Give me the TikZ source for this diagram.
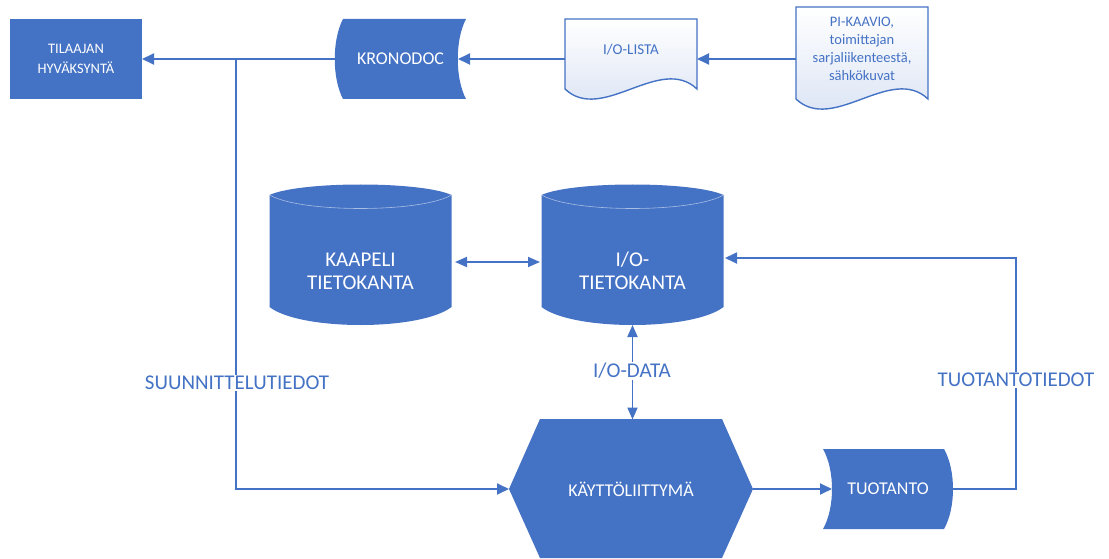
\documentclass[tikz,border=0pt]{standalone}
\usepackage{fontspec}
\setmainfont{Carlito}
\usetikzlibrary{arrows.meta,calc}
\definecolor{accent}{HTML}{4472C4}
\definecolor{paleblue}{HTML}{D6E0F3}
\definecolor{rimline}{HTML}{A9BDE5}

\begin{document}
\begin{tikzpicture}[x=1pt,y=-1pt,
  flow/.style={draw=accent,line width=1.8pt},
  tip/.style={-{Triangle[length=12pt,width=11pt]}},
  twotips/.style={{Triangle[length=12pt,width=10pt]}-{Triangle[length=12pt,width=10pt]}},
  box/.style={inner sep=0pt,outer sep=0pt,align=center},
  whitetext/.style={text=white},
  doc/.style={draw=accent,line width=1.4pt,top color=white,bottom color=paleblue},
  doctext/.style={text=accent},
  flowlabel/.style={text=accent,fill=white,inner sep=1.5pt,font=\fontsize{21}{24}\selectfont},
  cyltext/.style={text=white,align=center,font=\fontsize{21}{23}\selectfont},
  dbcyl/.pic={
    \fill[accent] (-91,-60) .. controls (-60,-74) and (60,-74) .. (91,-60)
      -- (91,52) .. controls (60,76) and (-60,76) .. (-91,52) -- cycle;
    \draw[rimline,line width=0.6pt] (-91,-60) .. controls (-60,-42) and (60,-42) .. (91,-60);
  }
]
\useasboundingbox (0,0) rectangle (1109,559);

% ---- top row: approval, document store, source documents
\node[box,whitetext,fill=accent,minimum width=132pt,minimum height=80pt,
      font=\fontsize{14.5}{20}\selectfont] (tilaajan) at (76,59) {TILAAJAN\\HYVÄKSYNTÄ};

\fill[accent] (343,19) -- (466,19) .. controls (455,40) and (455,78) .. (466,99)
  -- (343,99) .. controls (332,78) and (332,40) .. (343,19) -- cycle;
\node[box,whitetext,minimum width=131pt,minimum height=80pt,
      font=\fontsize{18}{22}\selectfont] (krono) at (400.5,59) {KRONODOC};

\path[doc] (565,19) -- (697,19) -- (697,89) .. controls (660,54) and (602,124) .. (565,89) -- cycle;
\node[box,doctext,minimum width=132pt,minimum height=62pt,
      font=\fontsize{15}{18}\selectfont] (iolista) at (631,50) {I/O-LISTA};

\path[doc] (796,7) -- (928,7) -- (928,99) .. controls (891,64) and (833,134) .. (796,99) -- cycle;
\node[box,doctext,minimum width=132pt,minimum height=80pt,
      font=\fontsize{14.5}{18}\selectfont] (pikaavio) at (862,49)
      {PI-KAAVIO,\\toimittajan\\sarjaliikenteestä,\\sähkökuvat};

% ---- databases
\pic at (360.5,255) {dbcyl};
\node[box,minimum width=183pt,minimum height=140pt,
      label={[cyltext,yshift=-16pt]center:{KAAPELI\\TIETOKANTA}}] (kaapeli) at (360.5,255) {};
\pic at (632.5,255) {dbcyl};
\node[box,minimum width=181pt,minimum height=140pt,
      label={[cyltext,yshift=-16pt]center:{I/O-\\TIETOKANTA}}] (iodb) at (632.5,255) {};

% ---- user interface and production
\fill[accent] (540,419) -- (722,419) -- (753,489) -- (722,558) -- (540,558) -- (509,489) -- cycle;
\node[box,whitetext,minimum width=244pt,minimum height=139pt,
      font=\fontsize{18}{22}\selectfont] (ui) at (631,489) {KÄYTTÖLIITTYMÄ};

\fill[accent] (823,449) -- (944,449) .. controls (956,470) and (956,508) .. (944,529)
  -- (823,529) .. controls (835,508) and (835,470) .. (823,449) -- cycle;
\node[box,whitetext,minimum width=130pt,minimum height=80pt,
      font=\fontsize{18}{22}\selectfont] (tuot) at (888,489) {TUOTANTO};

% ---- connectors
\draw[flow,tip] (krono.west) -- (tilaajan.east);
\draw[flow,tip] (iolista.west |- krono.center) -- ($(krono.east)+(-8,0)$);
\draw[flow,tip] (pikaavio.west |- krono.center) -- (iolista.east |- krono.center);

\coordinate (split) at (236,59);
\draw[flow,tip] (split) |- (ui.west);
\node[flowlabel] (suunn) at (237,383) {SUUNNITTELUTIEDOT};

\draw[flow,twotips] ($(kaapeli.east)+(3,7)$) -- ($(iodb.west)+(-2,7)$);

\draw[flow,twotips] (iodb.south) -- (iodb.south |- ui.north);
\node[flowlabel] (iodata) at (632,371) {I/O-DATA};

\draw[flow,tip] (ui.east) -- ($(tuot.west)+(9,0)$);

\coordinate (ret) at (1016,258);
\draw[flow,tip] (tuot.east) -| (ret) -- ($(iodb.east |- ret)+(2,0)$);
\node[flowlabel] (tuottied) at (1016,380) {TUOTANTOTIEDOT};
\end{tikzpicture}
\end{document}
